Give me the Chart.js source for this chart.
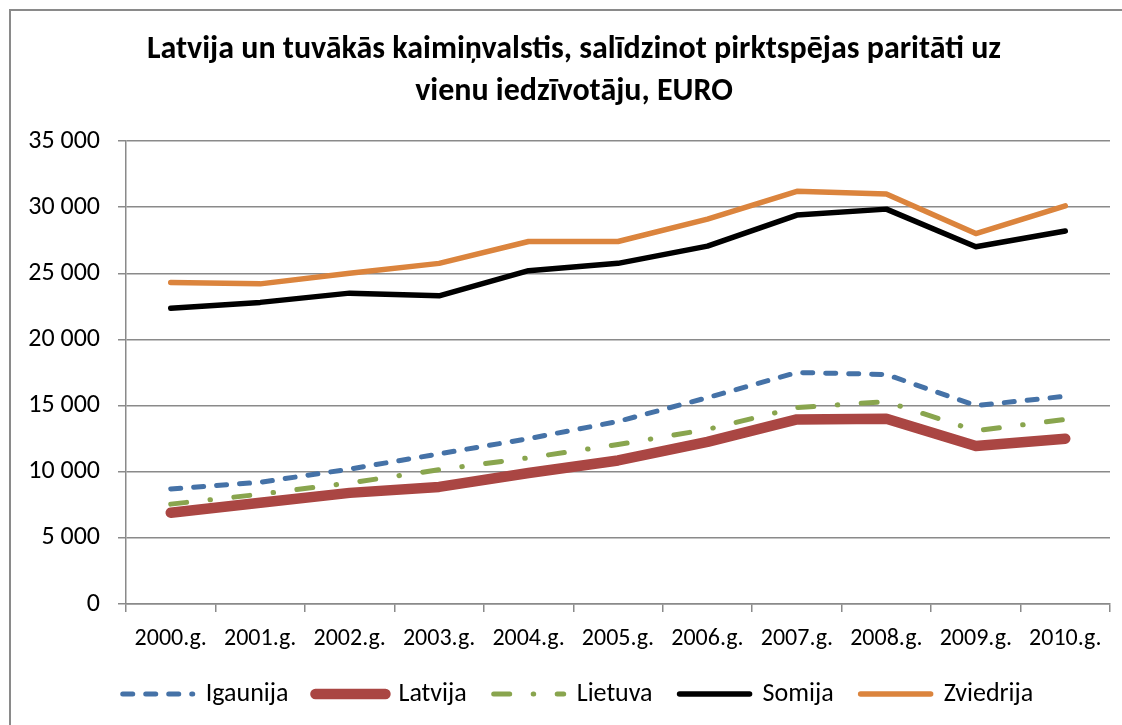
<!DOCTYPE html>
<html>
<head>
<meta charset="utf-8">
<script src="https://cdn.jsdelivr.net/npm/chart.js@4.4.1/dist/chart.umd.min.js"></script>
<style>
  body { margin: 0; background: #fff; }
  .frame { position: absolute; left: 9px; top: 9px; width: 1300px; height: 900px; border: 2px solid #8a8a8a; }
  .wrap { position: absolute; left: 0; top: 0; width: 1122px; height: 725px; }
</style>
</head>
<body>
<div class="frame"></div>
<div class="wrap"><canvas id="chart"></canvas></div>
<script>
const years = ['2000.g.', '2001.g.', '2002.g.', '2003.g.', '2004.g.', '2005.g.', '2006.g.', '2007.g.', '2008.g.', '2009.g.', '2010.g.'];

const igaunija  = [8700, 9200, 10200, 11350, 12500, 13800, 15600, 17500, 17350, 15000, 15700];
const latvija   = [6900, 7650, 8400, 8850, 9900, 10850, 12250, 13950, 14000, 11950, 12500];
const lietuva   = [7550, 8300, 9150, 10150, 11050, 12050, 13200, 14850, 15300, 13100, 13950];
const somija    = [22350, 22800, 23500, 23300, 25200, 25750, 27050, 29400, 29850, 27000, 28200];
const zviedrija = [24300, 24200, 25000, 25750, 27400, 27400, 29100, 31200, 31000, 28000, 30100];

const yTicks = [0, 5000, 10000, 15000, 20000, 25000, 30000, 35000];

const titleLines = ['Latvija un tuvākās kaimiņvalstis, salīdzinot pirktspējas paritāti uz', 'vienu iedzīvotāju, EURO'];

Chart.defaults.font.family = 'Carlito, Lato, sans-serif';
Chart.defaults.color = '#000';

const gridGray = '#8a8a8a';

function fmt(v) {
  return v.toString().replace(/\B(?=(\d{3})+(?!\d))/g, ' ');
}

function line(label, data, color, width, dash) {
  return {
    label: label,
    data: data,
    borderColor: color,
    backgroundColor: color,
    borderWidth: width,
    borderDash: dash || [],
    borderCapStyle: 'round',
    borderJoinStyle: 'round',
    pointRadius: 0,
    pointHoverRadius: 0,
    pointStyle: 'line',
    tension: 0,
    fill: false
  };
}

// title and legend in the original sit a bit right of the canvas centre
const nudgeBlocks = {
  id: 'nudgeBlocks',
  afterLayout(chart) {
    if (chart.titleBlock) chart.titleBlock.left += 28;
    if (chart.legend) {
      chart.legend.left += 18;
      chart.legend.right += 18;
    }
  }
};

new Chart(document.getElementById('chart'), {
  type: 'line',
  data: {
    labels: years,
    datasets: [
      line('Igaunija', igaunija, '#4572A7', 5, [10, 13]),
      line('Latvija', latvija, '#AA4643', 10.5),
      line('Lietuva', lietuva, '#89A54E', 5, [16, 23.5, 0.5, 23.5]),
      line('Somija', somija, '#000000', 5.5),
      line('Zviedrija', zviedrija, '#DB843D', 5.5)
    ]
  },
  plugins: [nudgeBlocks],
  options: {
    responsive: true,
    maintainAspectRatio: false,
    animation: false,
    layout: { padding: { left: 10, right: 12, top: 10, bottom: 8 } },
    plugins: {
      title: {
        display: true,
        text: titleLines,
        font: { size: 32, weight: 'bold', lineHeight: 1.3125 },
        padding: { top: 19, bottom: 28 }
      },
      legend: {
        position: 'bottom',
        labels: {
          usePointStyle: true,
          pointStyleWidth: 70,
          boxWidth: 72,
          boxHeight: 10,
          padding: 27,
          font: { size: 26 },
          generateLabels: (chart) => {
            const items = Chart.defaults.plugins.legend.labels.generateLabels(chart);
            items.forEach(it => {
              const ds = chart.data.datasets[it.datasetIndex];
              it.lineDash = ds.borderDash;
              it.lineCap = 'round';
              it.lineWidth = ds.borderWidth;
            });
            return items;
          }
        }
      },
      tooltip: { enabled: false }
    },
    scales: {
      x: {
        offset: true,
        grid: { display: true, drawOnChartArea: false, offset: true, color: gridGray, lineWidth: 1.5, tickLength: 8 },
        border: { display: true, color: gridGray, width: 1.5 },
        ticks: { autoSkip: false, maxRotation: 0, minRotation: 0, padding: 13, font: { size: 24 } },
        afterFit: (s) => { s.height = 50; }
      },
      y: {
        min: 0,
        max: 35000,
        afterBuildTicks: (s) => { s.ticks = yTicks.map(v => ({ value: v })); },
        grid: { color: gridGray, lineWidth: 1.5, tickLength: 8 },
        border: { display: true, color: gridGray, width: 1.5 },
        ticks: { padding: 18, font: { size: 26 }, callback: (v) => fmt(v) },
        afterFit: (s) => { s.width = 116; }
      }
    }
  }
});
</script>
</body>
</html>
